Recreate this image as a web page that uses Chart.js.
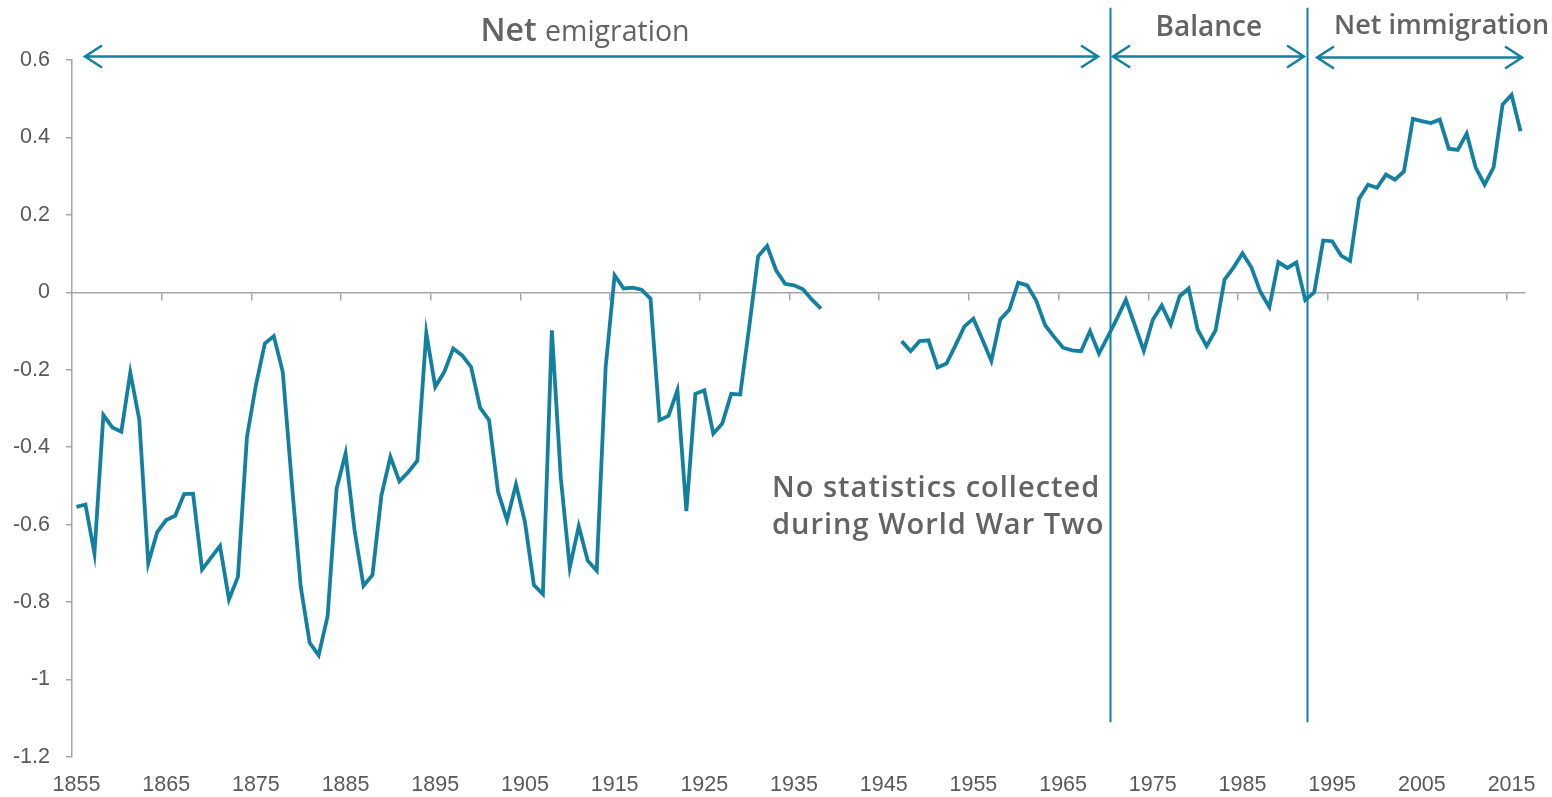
<!DOCTYPE html>
<html>
<head>
<meta charset="utf-8">
<script src="https://cdn.jsdelivr.net/npm/chart.js@4/dist/chart.umd.min.js"></script>
<style>
  html, body { margin: 0; padding: 0; background: #fff; }
  #wrap { width: 1552px; height: 797px; position: relative; }
</style>
</head>
<body>
<div id="wrap"><canvas id="migrationChart"></canvas></div>
<script>
// years on the category axis
const firstYear = 1855;
const lastYear = 2016;
const years = [];
for (let yr = firstYear; yr <= lastYear; yr++) years.push(String(yr));

const xTickLabels = ["1855", "1865", "1875", "1885", "1895", "1905", "1915", "1925",
  "1935", "1945", "1955", "1965", "1975", "1985", "1995", "2005", "2015"];
const yTickValues = [0.6, 0.4, 0.2, 0, -0.2, -0.4, -0.6, -0.8, -1, -1.2];

// net migration, millions
const netMigration1855to1938 = [
  -0.554, -0.548, -0.674, -0.317, -0.349, -0.36, -0.207, -0.329, -0.70, -0.619,
  -0.588, -0.577, -0.521, -0.52, -0.716, -0.685, -0.655, -0.793, -0.735, -0.375,
  -0.24, -0.132, -0.113, -0.206, -0.49, -0.76, -0.905, -0.937, -0.836, -0.507,
  -0.416, -0.614, -0.758, -0.73, -0.524, -0.425, -0.488, -0.464, -0.435, -0.105,
  -0.244, -0.206, -0.145, -0.163, -0.193, -0.298, -0.33, -0.515, -0.588, -0.496,
  -0.593, -0.756, -0.779, -0.098, -0.48, -0.711, -0.604, -0.693, -0.719, -0.193,
  0.044, 0.01, 0.012, 0.007, -0.016, -0.33, -0.319, -0.253, -0.565, -0.262,
  -0.253, -0.365, -0.339, -0.262, -0.264, -0.09, 0.093, 0.12, 0.057, 0.022,
  0.018, 0.008, -0.019, -0.042
];
// 1939-1946: no statistics collected
const warYears = [null, null, null, null, null, null, null, null];
const netMigration1947to2016 = [
  -0.126, -0.152, -0.126, -0.124, -0.194, -0.184, -0.137, -0.088, -0.068, -0.122,
  -0.177, -0.07, -0.045, 0.025, 0.018, -0.021, -0.085, -0.115, -0.143, -0.15,
  -0.152, -0.1, -0.158, -0.114, -0.068, -0.019, -0.085, -0.151, -0.071, -0.034,
  -0.083, -0.01, 0.01, -0.096, -0.139, -0.098, 0.033, 0.064, 0.101, 0.064,
  0.001, -0.038, 0.078, 0.063, 0.077, -0.02, 0.0, 0.134, 0.132, 0.095,
  0.081, 0.242, 0.278, 0.27, 0.304, 0.291, 0.312, 0.448, 0.442, 0.437,
  0.446, 0.371, 0.368, 0.41, 0.322, 0.278, 0.323, 0.485, 0.51, 0.416
];
const netMigration = netMigration1855to1938.concat(warYears, netMigration1947to2016);

const teal = "#1380A1";
const textGrey = "#636363";
const axisGrey = "#a6a6a6";
const tickFont = { family: "'Liberation Sans', Arial, sans-serif", size: 21.5 };
const labelFamily = "'Open Sans', 'Noto Sans', sans-serif";

// dividers between the periods, in (fractional) years
const dividerYears = [1970.23, 1992.25];

function arrow(ctx, x1, x2, y) {
  const len = 17, half = 11;
  ctx.beginPath();
  ctx.moveTo(x1, y); ctx.lineTo(x2, y);
  ctx.moveTo(x1 + len, y - half); ctx.lineTo(x1, y); ctx.lineTo(x1 + len, y + half);
  ctx.moveTo(x2 - len, y - half); ctx.lineTo(x2, y); ctx.lineTo(x2 - len, y + half);
  ctx.stroke();
}

const annotations = {
  id: "annotations",
  beforeDatasetsDraw(chart) {
    const { ctx } = chart;
    const xs = chart.scales.x, ys = chart.scales.y;
    const px = yr => xs.getPixelForValue(yr - firstYear);
    ctx.save();
    ctx.strokeStyle = teal;
    ctx.lineWidth = 2;
    dividerYears.forEach(d => {
      const p = Math.round(px(d)) + 0.5;
      ctx.beginPath();
      ctx.moveTo(p, ys.getPixelForValue(0.735));
      ctx.lineTo(p, ys.getPixelForValue(-1.11));
      ctx.stroke();
    });
    ctx.lineWidth = 2.5;
    const ay = ys.getPixelForValue(0.609);
    arrow(ctx, px(1855.95), px(1968.9), ay);
    arrow(ctx, px(1970.57), px(1991.86), ay);
    arrow(ctx, px(1993.31), px(2016.17), ay + 1);
    ctx.restore();
  },
  afterDatasetsDraw(chart) {
    const { ctx } = chart;
    const xs = chart.scales.x, ys = chart.scales.y;
    const px = yr => xs.getPixelForValue(yr - firstYear);
    ctx.save();
    ctx.fillStyle = textGrey;
    ctx.textBaseline = "alphabetic";

    // "Net emigration" - mixed weights
    const bigFont = "600 32px " + labelFamily;
    const smallFont = "400 28.5px " + labelFamily;
    ctx.font = bigFont;
    const wNet = ctx.measureText("Net ").width;
    ctx.font = smallFont;
    const wEm = ctx.measureText("emigration").width;
    const cx = px(1911.7);
    const by = ys.getPixelForValue(0.65);
    ctx.textAlign = "left";
    ctx.font = bigFont;
    ctx.fillText("Net ", cx - (wNet + wEm) / 2, by);
    ctx.font = smallFont;
    ctx.fillText("emigration", cx - (wNet + wEm) / 2 + wNet, by);

    ctx.textAlign = "center";
    ctx.font = "600 28px " + labelFamily;
    ctx.fillText("Balance", px(1981.24), ys.getPixelForValue(0.661));
    ctx.font = "600 27px " + labelFamily;
    ctx.fillText("Net immigration", px(2007.2), ys.getPixelForValue(0.668));

    ctx.font = "600 29px " + labelFamily;
    ctx.letterSpacing = "1px";
    ctx.textAlign = "left";
    ctx.fillText("No statistics collected", px(1932.55), ys.getPixelForValue(-0.529));
    ctx.fillText("during World War Two", px(1932.55), ys.getPixelForValue(-0.625));
    ctx.restore();
  }
};

new Chart(document.getElementById("migrationChart"), {
  type: "line",
  data: {
    labels: years,
    datasets: [
      {
        data: netMigration,
        borderColor: teal,
        borderWidth: 3.8,
        pointRadius: 0,
        pointHoverRadius: 0,
        tension: 0,
        spanGaps: false,
        fill: false
      }
    ]
  },
  options: {
    responsive: true,
    maintainAspectRatio: false,
    animation: false,
    layout: { padding: { top: 60, right: 27, left: 0, bottom: 0 } },
    plugins: { legend: { display: false }, tooltip: { enabled: false } },
    scales: {
      x: {
        type: "category",
        offset: true,
        grid: { display: false, drawTicks: false },
        border: { display: false },
        ticks: {
          autoSkip: false,
          maxRotation: 0,
          minRotation: 0,
          padding: 15,
          color: "#595959",
          font: tickFont,
          callback: (v, i) => (xTickLabels.includes(years[i]) ? years[i] : "")
        },
        afterFit: s => { s.height = 40; }
      },
      x0: {
        type: "category",
        position: { y: 0 },
        offset: true,
        grid: {
          offset: true,
          drawOnChartArea: false,
          drawTicks: true,
          tickLength: 7,
          lineWidth: 1.5,
          color: c => (c.index > 0 && c.index < years.length && c.index % 10 === 0 ? axisGrey : "rgba(0,0,0,0)")
        },
        ticks: { display: false, autoSkip: false },
        border: { color: axisGrey, width: 1.5 },
        afterFit: s => { s.height = 0; }
      },
      y: {
        min: -1.2,
        max: 0.6,
        afterBuildTicks: s => { s.ticks = yTickValues.map(v => ({ value: v })); },
        grid: { drawOnChartArea: false, tickLength: 6, color: axisGrey, lineWidth: 1.5 },
        border: { color: axisGrey, width: 1.5 },
        ticks: {
          padding: 16,
          color: "#595959",
          font: tickFont,
          callback: v => String(Math.round(v * 10) / 10)
        },
        afterFit: s => { s.width = 72; }
      }
    }
  },
  plugins: [annotations]
});
</script>
</body>
</html>
